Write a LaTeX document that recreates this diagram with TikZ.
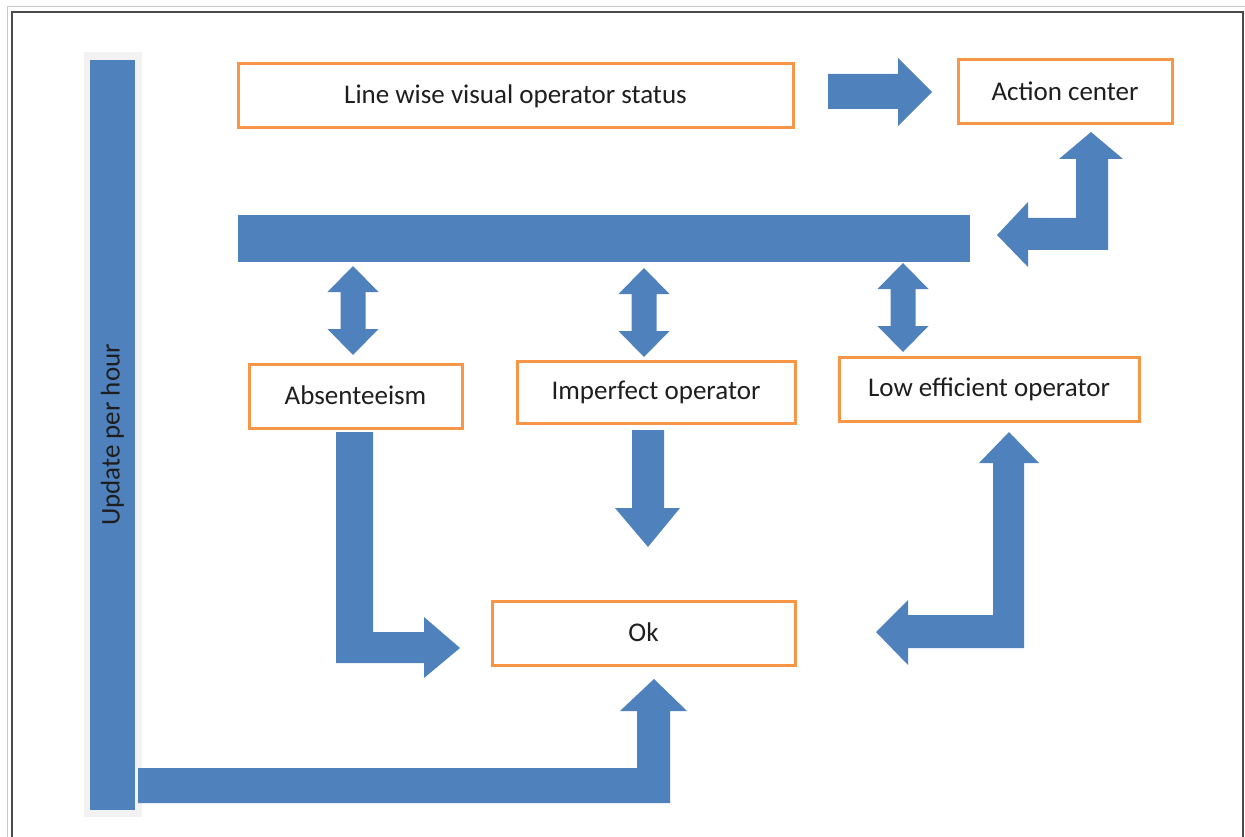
\documentclass[tikz,border=0pt]{standalone}
\usepackage{fontspec}
\setmainfont{Carlito}
\definecolor{barblue}{HTML}{4F81BD}
\definecolor{boxorange}{HTML}{F79646}
\definecolor{frameline}{HTML}{4A4A4A}
\definecolor{outerline}{HTML}{C8C8C8}
\definecolor{barshade}{HTML}{F2F2F2}
\definecolor{ink}{HTML}{1E1E1E}
\begin{document}
\begin{tikzpicture}[x=1pt,y=-1pt,
  labelbox/.style={draw=boxorange,line width=3pt,fill=white,inner sep=0pt,
    text=ink,font=\fontsize{27}{32}\selectfont},
  blockfill/.style={fill=barblue}]
\useasboundingbox (0,0) rectangle (1245,837);
% page frame
\draw[outerline,line width=1pt] (7,837) -- (7,7) -- (1250,7);
\draw[frameline,line width=2pt] (12,837) -- (12,12) -- (1243,12) -- (1243,837);

% boxes
\node[labelbox,minimum width=555pt,minimum height=64pt] (status) at (515.5,96) {\raisebox{2pt}{Line wise visual operator status}};
\node[labelbox,minimum width=214pt,minimum height=64pt] (action) at (1065,92) {\raisebox{2pt}{Action center}};
\node[labelbox,minimum width=213pt,minimum height=64pt] (absent) at (355.5,396) {\raisebox{2pt}{Absenteeism}};
\node[labelbox,minimum width=278pt,minimum height=62pt] (imperf) at (656,392) {\raisebox{2pt}{Imperfect operator}};
\node[labelbox,minimum width=300pt,minimum height=64pt] (loweff) at (989,389) {\raisebox{2pt}{Low efficient operator}};
\node[labelbox,minimum width=303pt,minimum height=64pt] (ok) at (643.5,633) {\raisebox{2pt}{Ok}};

% update bar on the left
\fill[barshade] (84,52) rectangle (142,817);
\fill[blockfill] (90,60) rectangle (135,810);
\node[rotate=90,text=ink,font=\fontsize{27}{32}\selectfont] (update) at (112.5,435) {Update per hour};

% status -> action center
\fill[blockfill] (828,74) -- (898,74) -- (898,58) -- (932,92) -- (898,126) -- (898,109) -- (828,109) -- cycle;

% distribution bar
\fill[blockfill] (238,215) rectangle (970,262);

% action center <-> distribution bar
\fill[blockfill] (1108,250) -- (1028,250) -- (1028,267) -- (997,235) -- (1028,202) -- (1028,218)
  -- (1076,218) -- (1076,159) -- (1059,159) -- (1091,132) -- (1123,159) -- (1108,159) -- cycle;

% double arrows between bar and operator boxes
\foreach \c/\t/\b in {353/266/355, 644/268/357, 903/263/352}{
  \fill[blockfill] (\c,\t) -- (\c+25.5,\t+26) -- (\c+12.5,\t+26) -- (\c+12.5,\b-26)
    -- (\c+25.5,\b-26) -- (\c,\b) -- (\c-25.5,\b-26) -- (\c-12.5,\b-26)
    -- (\c-12.5,\t+26) -- (\c-25.5,\t+26) -- cycle;
}

% absenteeism -> ok
\fill[blockfill] (336,432) -- (373,432) -- (373,632) -- (424,632) -- (424,617) -- (460,648)
  -- (424,678) -- (424,663) -- (336,663) -- cycle;

% imperfect operator -> down
\fill[blockfill] (632,430) -- (664,430) -- (664,508) -- (680,508) -- (648,547) -- (615,508)
  -- (632,508) -- cycle;

% ok <-> low efficient operator
\fill[blockfill] (1024,463) -- (1039,463) -- (1009,432) -- (979,463) -- (993,463) -- (993,615)
  -- (908,615) -- (908,600) -- (876,632) -- (908,665) -- (908,648) -- (1024,648) -- cycle;

% update bar -> ok
\fill[blockfill] (138,768) -- (637,768) -- (637,711) -- (620,711) -- (654,679) -- (687,711)
  -- (670,711) -- (670,803) -- (138,803) -- cycle;
\end{tikzpicture}
\end{document}
